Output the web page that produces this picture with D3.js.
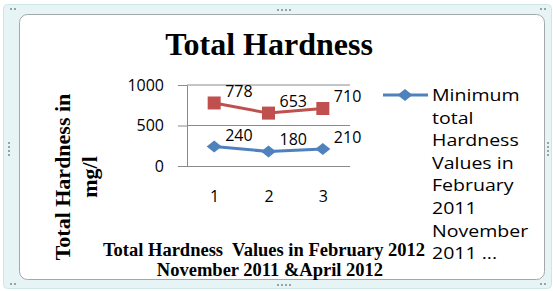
<!DOCTYPE html>
<html lang="en">
<head>
<meta charset="UTF-8">
<title>Total Hardness</title>
<script src="https://d3js.org/d3.v7.min.js"></script>
<style>
  body { margin: 0; background: #fff; }
  svg { display: block; }
</style>
</head>
<body>
<script>
// chart values
const categories = [1, 2, 3];
const maxValues = [778, 653, 710];
const minValues = [240, 180, 210];
const yTicks = [0, 500, 1000];
const legendLines = ["Minimum", "total", "Hardness", "Values in", "February", "2011", "November", "2011 ..."];

const width = 553, height = 291;
const svg = d3.select("body").append("svg")
    .attr("width", width)
    .attr("height", height);

// outer frame (excel-like selection border)
svg.append("rect")
    .attr("x", 3.5).attr("y", 4.5)
    .attr("width", 548).attr("height", 284)
    .attr("rx", 4)
    .attr("fill", "#e7f4f5")
    .attr("stroke", "#cfe6e8");
svg.append("rect")
    .attr("x", 19.5).attr("y", 14.5)
    .attr("width", 525).attr("height", 265)
    .attr("rx", 8)
    .attr("fill", "#fff")
    .attr("stroke", "#a3a8a8");

// little handle dots
const dots = svg.append("g").attr("fill", "#9aa3a3");
[[277, 9], [281, 9], [285, 9], [289, 9], [277, 284], [281, 284], [285, 284], [289, 284]].forEach(p =>
    dots.append("rect").attr("x", p[0]).attr("y", p[1]).attr("width", 2).attr("height", 2));
[[8, 142], [8, 146], [8, 150], [8, 154], [547, 142], [547, 146], [547, 150], [547, 154]].forEach(p =>
    dots.append("rect").attr("x", p[0]).attr("y", p[1]).attr("width", 2).attr("height", 2));
[[10, 8], [14, 8], [10, 283], [14, 283], [540, 8], [544, 8], [540, 283], [544, 283]].forEach(p =>
    dots.append("rect").attr("x", p[0]).attr("y", p[1]).attr("width", 2).attr("height", 2));

// title
svg.append("text")
    .attr("x", 269).attr("y", 55)
    .attr("text-anchor", "middle")
    .style("font-family", "'Liberation Serif', 'Times New Roman', serif")
    .style("font-weight", "bold")
    .style("font-size", "32px")
    .attr("fill", "#000")
    .text("Total Hardness");

// scales
const plotLeft = 187, plotRight = 350;
const x = d3.scalePoint().domain(categories).range([plotLeft, plotRight]).padding(0.5);
const y = d3.scaleLinear().domain([0, 1000]).range([166, 85]);

const gridColor = "#8a8a8a";
const sans = "'Open Sans', 'Noto Sans', sans-serif";

// gridlines
svg.append("g")
    .selectAll("line")
    .data(yTicks.filter(d => d > 0))
    .join("line")
    .attr("x1", plotLeft).attr("x2", plotRight)
    .attr("y1", d => y(d)).attr("y2", d => y(d))
    .attr("stroke", gridColor);

// y axis
const yAxis = svg.append("g")
    .attr("transform", `translate(${plotLeft},0)`)
    .call(d3.axisLeft(y).tickValues(yTicks).tickFormat(d3.format("d"))
        .tickSize(9).tickSizeOuter(0).tickPadding(14));
yAxis.select(".domain").attr("stroke", gridColor);
yAxis.selectAll(".tick line").attr("stroke", gridColor);
yAxis.selectAll("text")
    .style("font-family", sans).style("font-size", "16px").attr("fill", "#000");

// x axis
const xAxis = svg.append("g")
    .attr("transform", `translate(0,${y(0)})`)
    .call(d3.axisBottom(x).tickSize(0).tickPadding(25));
xAxis.select(".domain").attr("stroke", gridColor).attr("d", `M${plotLeft},0.5H${plotRight}`);
xAxis.selectAll("text")
    .style("font-family", sans).style("font-size", "16px").attr("fill", "#000");

// series
const series = [
  { values: maxValues, color: "#c0504d", marker: "square" },
  { values: minValues, color: "#4f81bd", marker: "diamond" }
];

const line = d3.line()
    .x((d, i) => x(categories[i]))
    .y(d => y(d));

series.forEach(s => {
  const g = svg.append("g");
  g.append("path")
    .datum(s.values)
    .attr("d", line)
    .attr("fill", "none")
    .attr("stroke", s.color)
    .attr("stroke-width", 3);

  const sym = s.marker === "square"
      ? "M-6.5,-6.5H6.5V6.5H-6.5Z"
      : "M0,-6L7.5,0L0,6L-7.5,0Z";
  g.selectAll(".mk")
    .data(s.values)
    .join("path")
    .attr("class", "mk")
    .attr("transform", (d, i) => `translate(${x(categories[i])},${y(d)})`)
    .attr("d", sym)
    .attr("fill", s.color);

  g.selectAll(".lbl")
    .data(s.values)
    .join("text")
    .attr("class", "lbl")
    .attr("x", (d, i) => x(categories[i]) + 11)
    .attr("y", d => y(d) - 6)
    .style("font-family", sans).style("font-size", "16px")
    .attr("fill", "#000")
    .text(d => d);
});

// y axis title
const yTitle = svg.append("text")
    .attr("transform", "translate(70,177) rotate(-90)")
    .attr("text-anchor", "middle")
    .style("font-family", "'Liberation Serif', 'Times New Roman', serif")
    .style("font-weight", "bold")
    .style("font-size", "22px")
    .attr("fill", "#000");
yTitle.append("tspan").attr("x", 0).attr("y", 0).text("Total Hardness in");
yTitle.append("tspan").attr("x", 0).attr("y", 27).text("mg/l");

// x axis title
const xTitle = svg.append("text")
    .attr("text-anchor", "middle")
    .style("font-family", "'Liberation Serif', 'Times New Roman', serif")
    .style("font-weight", "bold")
    .style("font-size", "18.5px")
    .style("white-space", "pre")
    .attr("fill", "#000");
xTitle.append("tspan").attr("x", 264).attr("y", 256).text("Total Hardness  Values in February 2012");
xTitle.append("tspan").attr("x", 270).attr("y", 276).text("November 2011 &April 2012");

// legend (only first entry fits)
const lg = svg.append("g");
lg.append("line")
    .attr("x1", 383).attr("x2", 428)
    .attr("y1", 95).attr("y2", 95)
    .attr("stroke", "#4f81bd").attr("stroke-width", 3);
lg.append("path")
    .attr("transform", "translate(405,95)")
    .attr("d", "M0,-6L7.5,0L0,6L-7.5,0Z")
    .attr("fill", "#4f81bd");
lg.selectAll("text")
    .data(legendLines)
    .join("text")
    .attr("transform", (d, i) => `translate(432,${101 + i * 22.6}) scale(1.15,1)`)
    .style("font-family", sans).style("font-size", "17px")
    .attr("fill", "#000")
    .text(d => d);
</script>
</body>
</html>
